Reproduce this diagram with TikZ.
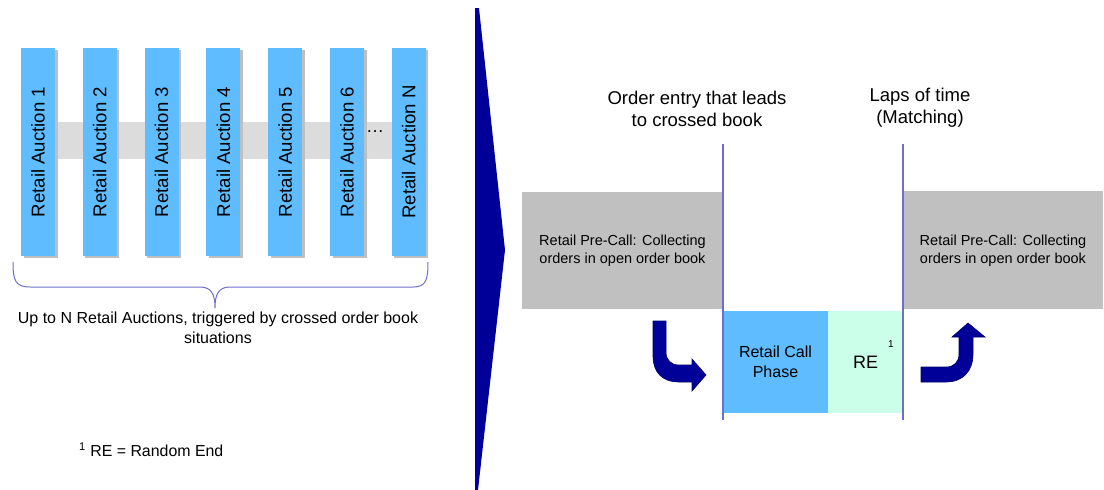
\documentclass[tikz,border=0pt]{standalone}
\usepackage{fontspec}
\setmainfont{Liberation Sans}
\definecolor{barblue}{HTML}{5EBCFF}
\definecolor{bandgray}{HTML}{DCDCDC}
\definecolor{boxgray}{HTML}{C0C0C0}
\definecolor{mint}{HTML}{CCFFE9}
\definecolor{navy}{HTML}{000099}
\definecolor{linepurple}{HTML}{6E6ECC}
\tikzset{
  auction/.style={fill=barblue,rotate=90,minimum width=208,minimum height=34,inner sep=0pt,font=\fontsize{18.6}{21}\selectfont},
  phase/.style={inner sep=0pt,align=center,font=\fontsize{14.5}{17.7}\selectfont},
  header/.style={align=center,font=\fontsize{18.5}{22}\selectfont},
  bendarrow/.style={fill=navy,draw=navy!70!black,line width=0.6}
}
\begin{document}
\begin{tikzpicture}[x=1pt,y=-1pt]
\useasboundingbox (0,0) rectangle (1104,490);
% left part: retail auctions
\fill[bandgray] (55,122) rectangle (392,159);
\foreach \i/\lab in {0/1,1/2,2/3,3/4,4/5,5/6,6/N} {
  \fill[black!25] (21+61.8*\i+2.5,49.5) rectangle (55+61.8*\i+2.5,257.5);
  \node[auction] (auction\lab) at (38+61.8*\i,152) {Retail Auction \lab};
}
\node[font=\fontsize{18}{21}\selectfont] (dots) at (375,132) {\dots};
\draw[linepurple,line width=1] (13,262) .. controls (13,280) and (15,287) .. (30,287)
  -- (200,287) .. controls (212,287) and (215,295) .. (215,308)
  .. controls (215,295) and (218,287) .. (230,287) -- (413,287)
  .. controls (426,287) and (428,280) .. (428,262);
\node[inner sep=0pt,align=center,font=\fontsize{16}{20}\selectfont] (uptoN) at (218,328) {Up to N Retail Auctions, triggered by crossed order book\\situations};
\node[anchor=west,inner sep=0pt,font=\fontsize{15.9}{19}\selectfont] (footnote) at (79,450) {\textsuperscript{1} RE = Random End};
% separator
\fill[navy] (475,8) -- (479,8) -- (505,250) -- (478,490) -- (475,490) -- cycle;
% right part: phases
\node[fill=boxgray,minimum width=201,minimum height=117,inner sep=0pt] (precall1) at (622.5,250.5) {};
\node[phase] at (precall1) {Retail Pre-Call: Collecting\\orders in open order book};
\node[fill=boxgray,minimum width=200,minimum height=118,inner sep=0pt] (precall2) at (1003,250) {};
\node[phase] at (1003,251) {Retail Pre-Call: Collecting\\orders in open order book};
\node[fill=barblue,minimum width=105,minimum height=102,inner sep=0pt,align=center,font=\fontsize{16}{20}\selectfont] (callphase) at (775.5,362) {Retail Call\\Phase};
\node[fill=mint,minimum width=75,minimum height=102,inner sep=0pt,font=\fontsize{18}{21}\selectfont] (re) at (865.5,362) {RE};
\node[font=\fontsize{10}{12}\selectfont,inner sep=0pt] (refoot) at (891,344) {1};
\coordinate (entrytop) at (723,144);
\coordinate (entrybot) at (723,420);
\coordinate (lapstop) at (903,144);
\coordinate (lapsbot) at (903,420);
\draw[linepurple,line width=1.4] (entrytop) -- (entrybot);
\draw[linepurple,line width=1.4] (lapstop) -- (lapsbot);
\node[header] (entry) at (697,109) {Order entry that leads\\to crossed book};
\node[header] (laps) at (920,108) {Laps of time\\(Matching)};
% bent arrows
\draw[bendarrow] (653,321) -- (666,321) -- (666,352) .. controls (666,360) and (671,365) .. (679,365)
  -- (692,365) -- (692,359) -- (706,375) -- (692,391) -- (692,382) -- (679,382)
  .. controls (662,382) and (653,372) .. (653,356) -- cycle;
\draw[bendarrow] (921,367) -- (946,367) .. controls (954,367) and (959,362) .. (959,354)
  -- (959,337) -- (952,337) -- (968,323) -- (985,337) -- (973,337) -- (973,354)
  .. controls (973,371) and (963,382) .. (946,382) -- (921,382) -- cycle;
\end{tikzpicture}
\end{document}
